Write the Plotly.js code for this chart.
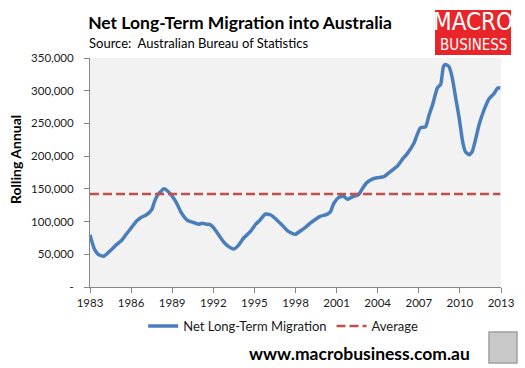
<!DOCTYPE html>
<html>
<head>
<meta charset="utf-8">
<script src="https://cdn.plot.ly/plotly-3.0.1.min.js"></script>
<style>html,body{margin:0;padding:0;background:#fff;}#chart{width:525px;height:368px;}</style>
</head>
<body>
<div id="chart"></div>
<script>
// Decimal years and rolling annual net long-term migration
var years = [1983.0,1983.3,1983.6,1984.0,1984.4,1984.9,1985.3,1985.6,1986.0,1986.4,1986.7,1987.1,1987.5,1987.7,1987.95,1988.4,1988.7,1989.1,1989.4,1989.65,1990.1,1990.5,1990.9,1991.2,1991.5,1991.8,1992.0,1992.4,1992.75,1993.1,1993.5,1993.85,1994.2,1994.7,1995.1,1995.4,1995.8,1996.2,1996.5,1997.0,1997.5,1998.0,1998.35,1998.7,1999.1,1999.5,1999.8,2000.3,2000.55,2000.8,2001.16,2001.5,2001.8,2002.07,2002.4,2002.6,2002.9,2003.2,2003.6,2004.0,2004.45,2004.9,2005.4,2005.8,2006.2,2006.65,2007.1,2007.5,2007.75,2008.0,2008.35,2008.6,2008.8,2008.95,2009.2,2009.45,2009.7,2009.95,2010.2,2010.4,2010.67,2010.9,2011.16,2011.4,2011.77,2012.14,2012.5,2012.75,2012.95];
var migration = [79500,59000,50000,47000,54000,64000,71000,79500,90000,101000,106000,110000,118000,130000,141000,150000,146000,136000,125000,114000,102000,99000,96000,97400,96000,95000,91000,79500,69000,62000,58000,64000,74500,84600,96000,102000,111600,110000,105000,95000,84600,80600,85600,90700,98000,104000,108000,111000,115000,128000,137000,139000,134000,137000,139600,141000,151000,159500,165000,167000,168700,176000,184000,195000,205000,220000,243000,245000,263000,278000,304000,310000,337000,340000,337000,319000,288000,258000,222000,207000,202000,207000,227000,248000,271000,288000,296000,304000,304000];
var averageX = [1983.0, 2012.95];
var averageY = [142000, 142000];
var xTicks = [1983,1986,1989,1992,1995,1998,2001,2004,2007,2010,2013];
var yTicks = [0,50000,100000,150000,200000,250000,300000,350000];
var yTickText = ['-','50,000','100,000','150,000','200,000','250,000','300,000','350,000'];

var FONT = 'Lato, "Open Sans", sans-serif';
var traces = [
  {x: years, y: migration, type: 'scatter', mode: 'lines', name: 'Net Long-Term Migration',
   line: {color: '#4A7EBB', width: 3.5, shape: 'spline', smoothing: 0.5}},
  {x: averageX, y: averageY, type: 'scatter', mode: 'lines', name: 'Average',
   line: {color: '#C0504D', width: 2.5, dash: '9px,4px'}}
];
var layout = {
  width: 525, height: 368,
  margin: {l: 90, r: 24, t: 58, b: 81},
  paper_bgcolor: '#ffffff', plot_bgcolor: '#F2F2F2',
  font: {family: FONT, size: 11, color: '#1a1a1a'},
  showlegend: true,
  legend: {orientation: 'h', x: 0.47, xanchor: 'center', y: -0.17, yanchor: 'middle',
           font: {family: FONT, size: 13, color: '#1a1a1a'}, bgcolor: 'rgba(0,0,0,0)'},
  title: {text: '<b>Net Long-Term Migration into Australia</b>', x: 240/525, xanchor: 'center',
          y: 1 - 23/368, yanchor: 'middle', yref: 'container', font: {family: FONT, size: 17.5, color: '#000'}},
  xaxis: {range: [1983, 2013], tickvals: xTicks, ticktext: xTicks.map(String), showgrid: false, zeroline: false,
          showline: true, linecolor: '#868686', linewidth: 1, ticks: 'outside', ticklen: 5, tickcolor: '#868686',
          tickfont: {family: FONT, size: 11.5, color: '#1a1a1a'}, fixedrange: true},
  yaxis: {range: [0, 350000], tickvals: yTicks, ticktext: yTickText, showgrid: false, zeroline: false,
          showline: true, linecolor: '#868686', linewidth: 1, ticks: 'outside', ticklen: 5, tickcolor: '#868686',
          ticklabelstandoff: 8,
          tickfont: {family: FONT, size: 11.5, color: '#1a1a1a'}, fixedrange: true},
  shapes: [
    {type: 'rect', xref: 'paper', yref: 'paper', x0: (435-90)/411, x1: (511-90)/411,
     y0: (287-55)/229, y1: (287-10)/229, fillcolor: '#E8262A', line: {width: 0}, layer: 'above'},
    {type: 'rect', xref: 'paper', yref: 'paper', x0: (489-90)/411, x1: (517-90)/411,
     y0: (287-363)/229, y1: (287-332)/229, fillcolor: '#C8C8C8', line: {color: '#A0A0A0', width: 1.5}}
  ],
  annotations: [
    {text: '<b>Rolling Annual</b>', xref: 'paper', yref: 'paper', x: (15-90)/411, xanchor: 'center',
     y: (287-160)/229, yanchor: 'middle', textangle: -90, showarrow: false, font: {family: FONT, size: 14, color: '#000'}},
    {text: 'Source:  Australian Bureau of Statistics', xref: 'paper', yref: 'paper', x: (87-90)/411, xanchor: 'left',
     y: (287-43)/229, yanchor: 'middle', showarrow: false, font: {family: FONT, size: 13, color: '#000'}},
    {text: 'MACRO', xref: 'paper', yref: 'paper', x: (473-90)/411, xanchor: 'center', y: (287-22)/229, yanchor: 'middle',
     showarrow: false, font: {family: '"Liberation Sans Narrow", "DejaVu Sans Condensed", sans-serif', size: 24, color: '#fff'}},
    {text: 'BUSINESS', xref: 'paper', yref: 'paper', x: (473-90)/411, xanchor: 'center', y: (287-45)/229, yanchor: 'middle',
     showarrow: false, font: {family: '"Liberation Sans Narrow", "DejaVu Sans Condensed", sans-serif', size: 15, color: '#fff'}},
    {text: '<b>www.macrobusiness.com.au</b>', xref: 'paper', yref: 'paper', x: (359-90)/411, xanchor: 'center',
     y: (287-353)/229, yanchor: 'middle', showarrow: false, font: {family: FONT, size: 17.5, color: '#000'}}
  ]
};
Plotly.newPlot('chart', traces, layout, {displayModeBar: false, staticPlot: true});
</script>
</body>
</html>
